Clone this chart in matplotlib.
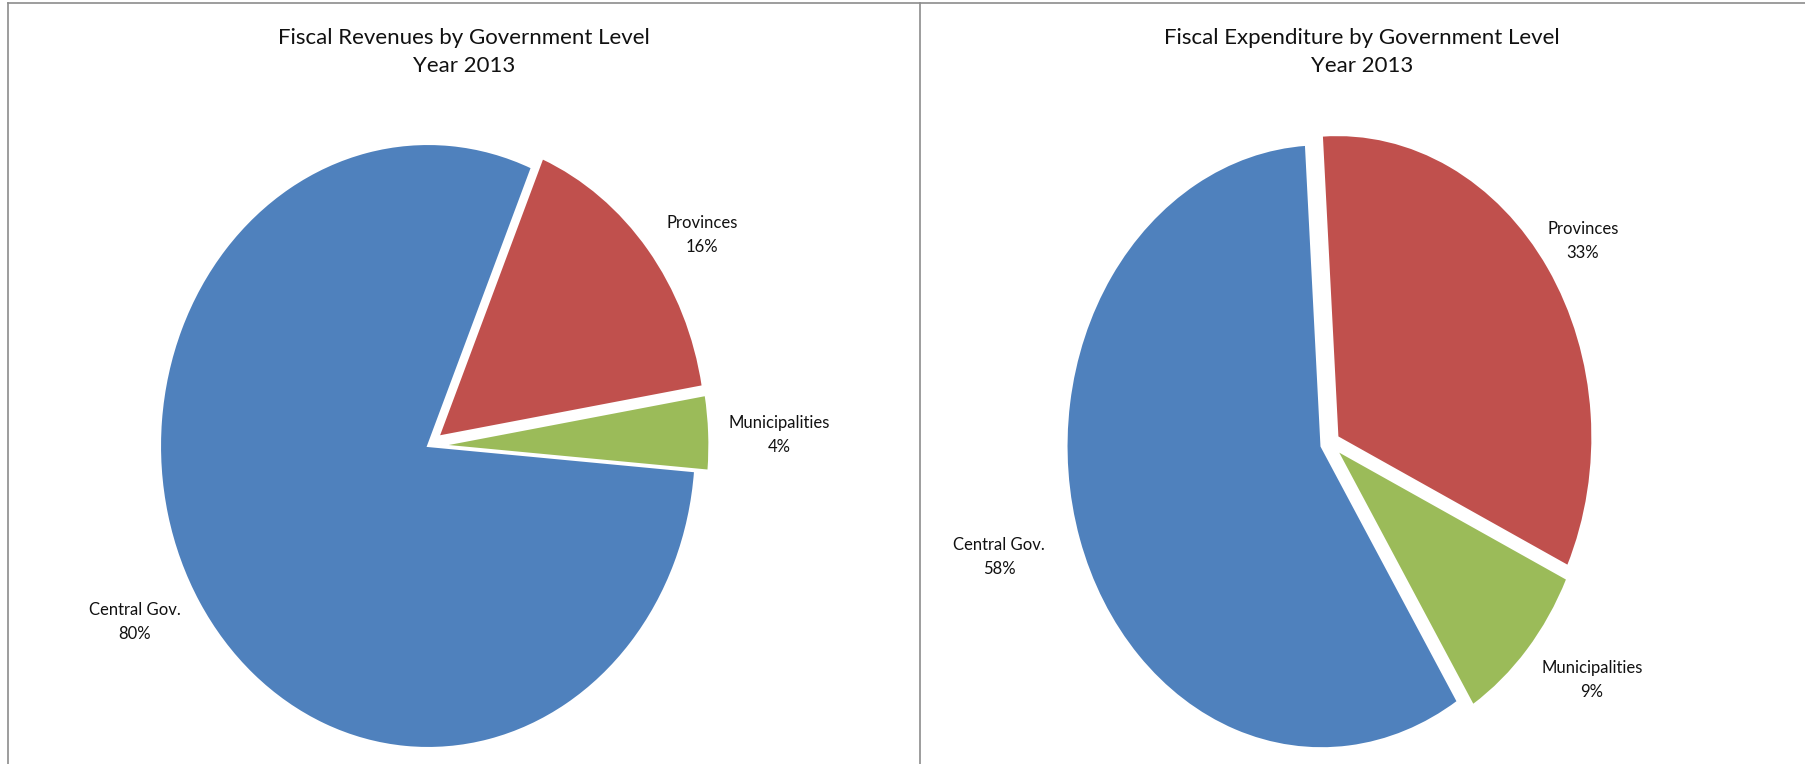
import matplotlib
matplotlib.use("Agg")
import matplotlib.pyplot as plt
from matplotlib.lines import Line2D

plt.rcParams['font.family'] = ['Lato', 'DejaVu Sans']

W, H = 1805, 764

categories = ["Central Gov.", "Provinces", "Municipalities"]
revenues = [80, 16, 4]
expenditure = [58, 33, 9]
titles = ["Fiscal Revenues by Government Level\nYear 2013",
          "Fiscal Expenditure by Government Level\nYear 2013"]
colors = ["#4F81BD", "#C0504D", "#9BBB59"]

fig = plt.figure(figsize=(W / 100, H / 100), dpi=100)
fig.patch.set_facecolor("white")


def add_pie(values, cx, cy, rx, ry, startangle, explode):
    lim = 1.2
    ax = fig.add_axes([(cx - lim * rx) / W, (H - cy - lim * ry) / H,
                       2 * lim * rx / W, 2 * lim * ry / H])
    ax.pie(values, colors=colors, startangle=startangle, counterclock=False,
           explode=explode, wedgeprops=dict(edgecolor="white", linewidth=1.5))
    ax.set_aspect("auto")
    ax.set_xlim(-lim, lim)
    ax.set_ylim(-lim, lim)
    ax.axis("off")
    return ax


add_pie(revenues, 428, 446, 268, 302, -4.8, [0, 0.05, 0.05])
add_pie(expenditure, 1330, 443, 255, 302, -57.7, [0.035, 0.035, 0.035])

# titles
fig.text(464 / W, 1 - 52 / H, titles[0], ha="center", va="center",
         fontsize=16, color="#111111", linespacing=1.45)
fig.text(1362 / W, 1 - 52 / H, titles[1], ha="center", va="center",
         fontsize=16, color="#111111", linespacing=1.45)

# data labels
def lab(x, y, name, v):
    fig.text(x / W, 1 - y / H, f"{name}\n{v}%", ha="center", va="center",
             fontsize=12, color="#111111", linespacing=1.55)

lab(702, 235, categories[1], revenues[1])
lab(779, 435, categories[2], revenues[2])
lab(135, 622, categories[0], revenues[0])
lab(1583, 241, categories[1], expenditure[1])
lab(1592, 680, categories[2], expenditure[2])
lab(999, 557, categories[0], expenditure[0])

# panel borders
lc = "#8c8c8c"
fig.add_artist(Line2D([8 / W, 1], [1 - 3 / H, 1 - 3 / H], color=lc, lw=1.2))
fig.add_artist(Line2D([8 / W, 8 / W], [0, 1 - 3 / H], color=lc, lw=1.2))
fig.add_artist(Line2D([920 / W, 920 / W], [0, 1 - 3 / H], color=lc, lw=1.2))

fig.savefig("out.png", dpi=100, facecolor="white")
